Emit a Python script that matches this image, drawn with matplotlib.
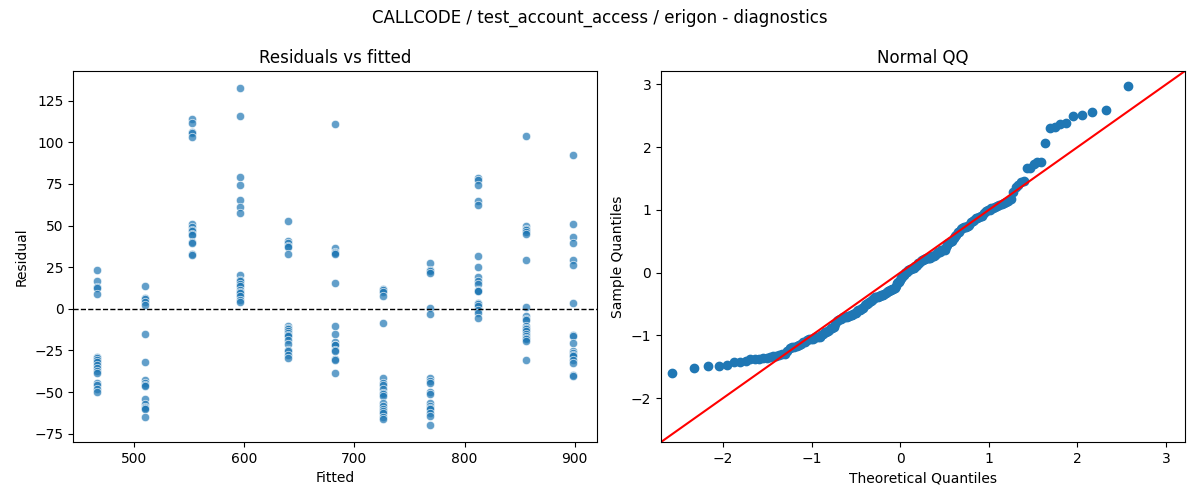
import matplotlib
matplotlib.use("Agg")
import matplotlib.pyplot as plt
import numpy as np
from statistics import NormalDist

fitted_levels = [466.7, 509.9, 553.1, 596.3, 639.5, 682.7, 725.9, 769.1, 812.3, 855.5, 898.7]

res_1 = [23.3, 16.7, 12.8, 12.2, 8.8, -29.0, -29.8, -30.6, -31.8, -33.5, -35.5, -37.5, -38.5, -44.6, -46.0, -48.2, -49.8]
res_2 = [13.8, 6.4, 5.6, 4.2, 2.4, -15.2, -31.8, -42.5, -44.5, -45.8, -46.6, -54.4, -57.4, -58.8, -59.6, -60.4, -64.8]
res_3 = [114.2, 111.8, 106.3, 105.4, 102.9, 50.8, 49.2, 47.6, 46.5, 45.2, 44.3, 40.4, 39.8, 32.8, 32.2]
res_4 = [132.6, 115.8, 78.9, 74.6, 65.2, 61.2, 57.8, 20.3, 17.0, 16.4, 15.0, 13.4, 11.4, 10.2, 9.4, 7.4, 5.4, 3.8]
res_5 = [53.0, 40.9, 39.3, 37.9, 37.4, 32.7, -10.6, -11.4, -12.2, -13.5, -14.6, -15.5, -16.5, -18.5, -21.1, -24.5, -25.5, -27.5, -29.5]
res_6 = [111.0, 36.3, 34.3, 33.5, 32.9, 15.4, -10.2, -15.2, -20.1, -21.5, -22.0, -24.5, -25.5, -30.0, -30.5, -38.5]
res_7 = [11.8, 11.0, 9.8, 7.4, -8.6, -41.5, -44.5, -46.0, -48.4, -50.8, -51.4, -52.4, -56.4, -58.4, -60.4, -61.4, -62.4, -64.8, -66.4]
res_8 = [27.3, 23.3, 22.6, 21.3, 0.4, -3.2, -41.5, -43.5, -44.5, -50.0, -51.4, -56.4, -58.4, -59.4, -60.4, -62.4, -64.4, -69.8]
res_9 = [78.7, 77.2, 74.6, 64.8, 62.6, 31.7, 24.9, 18.9, 16.7, 14.8, 11.4, 10.8, 10.4, 3.4, 2.8, 1.4, -1.0, -2.6, -5.6]
res_10 = [103.5, 49.8, 48.2, 47.2, 46.3, 44.7, 29.3, 1.0, -4.6, -6.2, -6.8, -10.6, -11.6, -12.4, -13.2, -15.2, -16.4, -17.5, -18.1, -19.5, -30.5]
res_11 = [92.1, 51.2, 42.9, 39.3, 29.3, 26.3, 3.4, -15.6, -16.5, -20.5, -25.1, -26.5, -27.5, -28.5, -30.5, -32.5, -39.9, -40.5]

groups = [res_1, res_2, res_3, res_4, res_5, res_6, res_7, res_8, res_9, res_10, res_11]
fitted = np.concatenate([[f] * len(g) for f, g in zip(fitted_levels, groups)])
resid = np.concatenate([np.array(g, dtype=float) for g in groups])

title = "CALLCODE / test_account_access / erigon - diagnostics"
qq_limits = [-2.70, 3.215]

fig, (ax1, ax2) = plt.subplots(1, 2, figsize=(12, 5), dpi=100)
fig.subplots_adjust(left=0.061, right=0.9875, bottom=0.116, top=0.858, wspace=0.122)

ax1.scatter(fitted, resid, s=36, color="#1f77b4", alpha=0.7, edgecolors="white", linewidths=0.6)
ax1.axhline(0, color="black", linestyle="--", linewidth=1)
ax1.set_title("Residuals vs fitted")
ax1.set_xlabel("Fitted")
ax1.set_ylabel("Residual")

z = np.sort((resid - resid.mean()) / resid.std(ddof=1))
n = len(z)
nd = NormalDist()
theo = np.array([nd.inv_cdf(i / (n + 1)) for i in range(1, n + 1)])
ax2.plot(theo, z, "o", color="#1f77b4", markersize=6, linestyle="none")
ax2.plot(qq_limits, qq_limits, color="red", linewidth=1.5)
ax2.set_xlim(qq_limits)
ax2.set_ylim(qq_limits)
ax2.set_title("Normal QQ")
ax2.set_xlabel("Theoretical Quantiles")
ax2.set_ylabel("Sample Quantiles")

fig.suptitle(title, y=0.983)
fig.savefig("out.png", dpi=100)
